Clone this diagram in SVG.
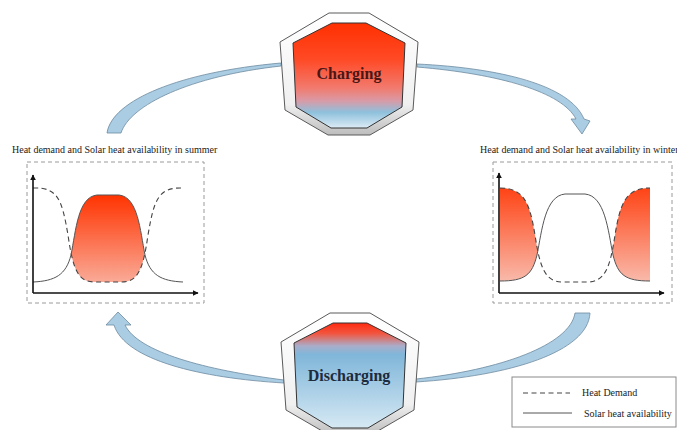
<svg xmlns="http://www.w3.org/2000/svg" width="677" height="430" viewBox="0 0 677 430">
  <style>
    .frame { fill: url(#ringGrad); stroke: #5a5a5a; stroke-width: 1; }
    .core { stroke: #333; stroke-width: 1; }
    .label { font-family: "Liberation Serif", "Times New Roman", serif; font-weight: bold; font-size: 16px; text-anchor: middle; }
    .title { font-family: "Liberation Serif", "Times New Roman", serif; font-size: 10px; fill: #222; }
    .box { fill: none; stroke: #9a9a9a; stroke-width: 1; stroke-dasharray: 4 3; }
    .axis { fill: none; stroke: #111; stroke-width: 1.6; }
    .demand { fill: none; stroke: #444; stroke-width: 1.1; stroke-dasharray: 5 3.5; }
    .solar { fill: none; stroke: #555; stroke-width: 1; }
    .flow { fill: #aacde4; stroke: #6d8aa0; stroke-width: 0.8; stroke-linejoin: round; }
  </style>
  <defs>
    <linearGradient id="ringGrad" x1="0" y1="0" x2="0" y2="1">
      <stop offset="0" stop-color="#ffffff"/>
      <stop offset="0.75" stop-color="#f0f0f0"/>
      <stop offset="1" stop-color="#bdbdbd"/>
    </linearGradient>
    <linearGradient id="chargeGrad" x1="0" y1="0" x2="0" y2="1">
      <stop offset="0" stop-color="#ff3000"/>
      <stop offset="0.35" stop-color="#ff4a26"/>
      <stop offset="0.62" stop-color="#f27a6e"/>
      <stop offset="0.74" stop-color="#d99aa6"/>
      <stop offset="0.85" stop-color="#8ec0dc"/>
      <stop offset="1" stop-color="#dcecf5"/>
    </linearGradient>
    <linearGradient id="dischargeGrad" x1="0" y1="0" x2="0" y2="1">
      <stop offset="0" stop-color="#ff2a10"/>
      <stop offset="0.1" stop-color="#f2553f"/>
      <stop offset="0.22" stop-color="#a8aecb"/>
      <stop offset="0.3" stop-color="#80b6d9"/>
      <stop offset="1" stop-color="#d6e9f4"/>
    </linearGradient>
    <linearGradient id="heatGrad" x1="0" y1="0" x2="0" y2="1">
      <stop offset="0" stop-color="#ff3300"/>
      <stop offset="1" stop-color="#f9b9aa"/>
    </linearGradient>
    <marker id="axisHead" viewBox="0 0 10 10" refX="9" refY="5" markerWidth="6" markerHeight="6" orient="auto" markerUnits="userSpaceOnUse">
      <path d="M0,0 L10,5 L0,10 Z" fill="#111"/>
    </marker>
    <!-- summer: band between solar (top) and demand (bottom) -->
    <clipPath id="aboveSummerDemand">
      <path d="M33,188 C58,187 62,200 68,235 C73,270 78,282 95,282 L121,282 C138,282 143,270 148,235 C154,200 158,187 183,188 L183,170 L33,170 Z"/>
    </clipPath>
    <!-- winter: band between demand (top) and solar (bottom) -->
    <clipPath id="belowWinterDemand">
      <path d="M500,188 C525,188 530,205 535,235 C540,268 545,282 563,282 L587,282 C605,282 610,268 615,235 C620,205 625,188 650,188 L650,293 L500,293 Z"/>
    </clipPath>
  </defs>

  <rect width="677" height="430" fill="#ffffff"/>

  <!-- curved flow arrows -->
  <g id="connectors">
    <path class="flow" d="M107,133 C112,100 180,72 281,63 L281,66 C190,76 130,105 121,133 Z"/>
    <path class="flow" d="M417,64 C500,68 570,85 584,119 L590,121 L582,134 L571,119 L576,119 C562,92 500,74 417,67 Z"/>
    <path class="flow" d="M284,383 C200,378 125,360 114,325 L106,325 L118,312 L131,325 L125,325 C138,352 205,370 284,380 Z"/>
    <path class="flow" d="M575,313 C570,345 500,370 416,379 L416,382 C510,376 588,352 590,313 Z"/>
  </g>

  <g id="charging">
    <polygon class="frame" points="329,13 369,13 418,42 413,110 370,135 328,135 285,110 280,42"/>
    <polygon class="core" fill="url(#chargeGrad)" points="332,23 366,23 405,43 402,107 367,128 331,128 296,107 293,43"/>
    <text class="label" x="349" y="79" fill="#4a1616">Charging</text>
  </g>

  <g id="discharging">
    <polygon class="frame" points="330,313 370,313 419,342 414,410 371,435 329,435 286,410 281,342"/>
    <polygon class="core" fill="url(#dischargeGrad)" points="333,323 367,323 406,343 403,407 368,428 332,428 297,407 294,343"/>
    <text class="label" x="349" y="381" fill="#1c2b3e" font-size="15.5">Discharging</text>
  </g>

  <g id="summer">
    <text class="title" x="12" y="153">Heat demand and Solar heat availability in summer</text>
    <rect class="box" x="27" y="162" width="177" height="141"/>
    <g clip-path="url(#aboveSummerDemand)">
      <path fill="url(#heatGrad)" d="M33,282 C55,281 66,275 71,255 C76,230 78,197 97,195 L119,195 C138,197 140,230 145,255 C150,275 161,281 183,282 L183,293 L33,293 Z"/>
    </g>
    <path class="demand" d="M33,188 C58,187 62,200 68,235 C73,270 78,282 95,282 L121,282 C138,282 143,270 148,235 C154,200 158,187 183,188"/>
    <path class="solar" d="M33,282 C55,281 66,275 71,255 C76,230 78,197 97,195 L119,195 C138,197 140,230 145,255 C150,275 161,281 183,282"/>
    <path class="axis" d="M33,293 L33,175" marker-end="url(#axisHead)"/>
    <path class="axis" d="M33,293 L198,293" marker-end="url(#axisHead)"/>
  </g>

  <g id="winter">
    <text class="title" x="480" y="153">Heat demand and Solar heat availability in winter</text>
    <rect class="box" x="493" y="162" width="179" height="141"/>
    <g clip-path="url(#belowWinterDemand)">
      <path fill="url(#heatGrad)" d="M500,281 C525,281 532,275 537,255 C542,230 545,196 565,194 L585,194 C605,196 608,230 613,255 C618,275 625,281 650,281 L650,175 L500,175 Z"/>
    </g>
    <path class="demand" d="M500,188 C525,188 530,205 535,235 C540,268 545,282 563,282 L587,282 C605,282 610,268 615,235 C620,205 625,188 650,188"/>
    <path class="solar" d="M500,281 C525,281 532,275 537,255 C542,230 545,196 565,194 L585,194 C605,196 608,230 613,255 C618,275 625,281 650,281"/>
    <path class="axis" d="M499,293 L499,173" marker-end="url(#axisHead)"/>
    <path class="axis" d="M499,293 L664,293" marker-end="url(#axisHead)"/>
  </g>

  <g id="legend">
    <rect x="512" y="377" width="164" height="50" fill="#ffffff" stroke="#8a8a8a" stroke-width="1"/>
    <line class="demand" x1="523" y1="393" x2="570" y2="393"/>
    <text class="title" x="582" y="396">Heat Demand</text>
    <line class="solar" x1="523" y1="413" x2="572" y2="413"/>
    <text class="title" x="584" y="417">Solar heat availability</text>
  </g>
</svg>
